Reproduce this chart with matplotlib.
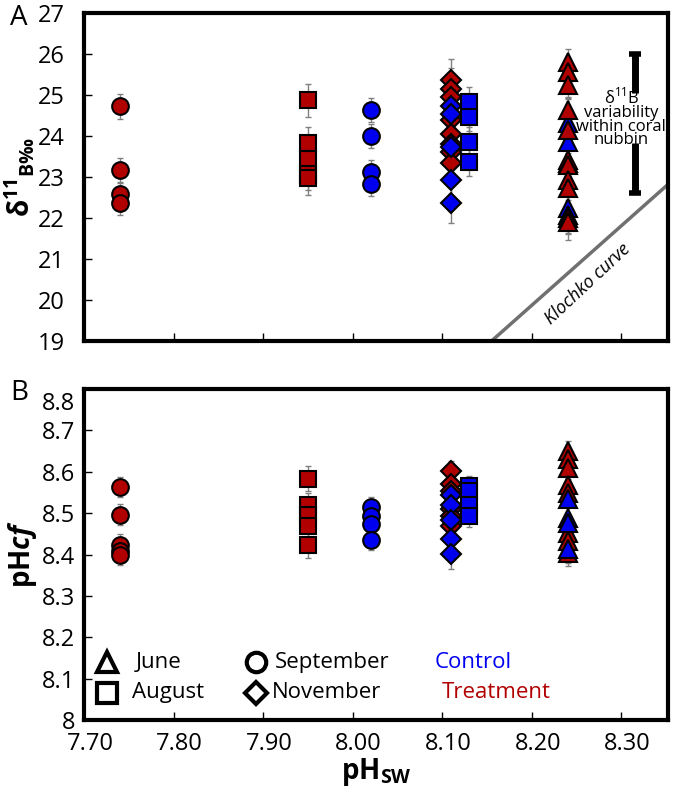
import matplotlib
matplotlib.use("Agg")
import matplotlib.pyplot as plt
from matplotlib.transforms import ScaledTranslation

plt.rcParams['font.family'] = ['Open Sans', 'DejaVu Sans']
plt.rcParams['mathtext.fontset'] = 'custom'
plt.rcParams['mathtext.rm'] = 'Open Sans'
plt.rcParams['mathtext.bf'] = 'Open Sans:bold'
plt.rcParams['mathtext.it'] = 'Open Sans:italic:bold'

RED = '#b00000'
BLUE = '#0000f0'

# pH of seawater for each group
ph_sep_trt = 7.74
ph_aug_trt = 7.95
ph_sep_ctl = 8.02
ph_nov = 8.11
ph_aug_ctl = 8.13
ph_jun = 8.24

# panel A: d11B (permil)
d11b_sep_trt = [24.72, 23.16, 22.59, 22.37]
d11b_aug_trt = [24.87, 23.82, 23.45, 23.08, 22.97]
d11b_sep_ctl = [24.63, 24.0, 23.12, 22.84]
d11b_nov_trt = [25.37, 25.15, 24.95, 24.4, 24.06, 23.81, 23.6, 23.33]
d11b_nov_ctl = [24.72, 24.54, 23.73, 22.92, 22.37]
d11b_aug_ctl = [24.84, 24.47, 23.86, 23.37]
d11b_jun_trt = [25.81, 25.57, 25.24, 24.63, 24.15, 23.41, 23.29, 22.93, 22.73, 22.0, 21.91]
d11b_jun_ctl = [24.31, 23.86, 23.33, 22.24, 22.07]

# panel B: pH of calcifying fluid
phcf_sep_trt = [8.563, 8.496, 8.424, 8.408, 8.40]
phcf_aug_trt = [8.583, 8.519, 8.496, 8.468, 8.422]
phcf_sep_ctl = [8.514, 8.494, 8.474, 8.436]
phcf_nov_trt = [8.601, 8.571, 8.553, 8.510, 8.494, 8.468]
phcf_nov_ctl = [8.545, 8.519, 8.484, 8.438, 8.401]
phcf_aug_ctl = [8.565, 8.553, 8.519, 8.492]
phcf_jun_trt = [8.650, 8.630, 8.608, 8.569, 8.549, 8.452, 8.432, 8.404]
phcf_jun_ctl = [8.533, 8.488, 8.476, 8.413]

# error (1 sd) per group, panel A then panel B
err_a = {'sep_trt': 0.3, 'aug_trt': 0.4, 'sep_ctl': 0.3, 'nov_trt': 0.5, 'nov_ctl': 0.5,
         'aug_ctl': 0.35, 'jun_trt': 0.3, 'jun_ctl': 0.6}
err_b = {'sep_trt': 0.025, 'aug_trt': 0.03, 'sep_ctl': 0.025, 'nov_trt': 0.025, 'nov_ctl': 0.035,
         'aug_ctl': 0.025, 'jun_trt': 0.025, 'jun_ctl': 0.04}

xticks = [7.70, 7.80, 7.90, 8.00, 8.10, 8.20, 8.30]
yticks_a = [19, 20, 21, 22, 23, 24, 25, 26, 27]
yticks_b = [8.0, 8.1, 8.2, 8.3, 8.4, 8.5, 8.6, 8.7, 8.8]
yticklabels_b = ['8', '8.1', '8.2', '8.3', '8.4', '8.5', '8.6', '8.7', '8.8']

MARKER = {'jun': '^', 'aug': 's', 'sep': 'o', 'nov': 'D'}
MSIZE = {'jun': 13, 'aug': 11.5, 'sep': 12, 'nov': 10}


def draw_series(ax, x, ys, err, month, color):
    ax.errorbar([x] * len(ys), ys, yerr=err, fmt='none', ecolor='#808080',
                elinewidth=1, capsize=2, capthick=1, zorder=2)
    ax.plot([x] * len(ys), ys, linestyle='none', marker=MARKER[month], ms=MSIZE[month],
            mfc=color, mec='black', mew=1.5, zorder=3)


def style_axes(ax, ypad):
    for s in ax.spines.values():
        s.set_linewidth(3)
    ax.tick_params(direction='in', length=6, width=1, labelsize=17)
    ax.tick_params(axis='x', pad=9)
    ax.tick_params(axis='y', pad=ypad)
    ax.set_xlim(7.70, 8.352)
    ax.set_xticks(xticks)


fig = plt.figure(figsize=(6.74, 7.87), dpi=100)
axA = fig.add_axes([84 / 674, 1 - 341 / 787, 584 / 674, 328 / 787])
axB = fig.add_axes([84 / 674, 1 - 720 / 787, 584 / 674, 331 / 787])

# ---- panel A
style_axes(axA, 14)
axA.set_ylim(19, 27)
axA.set_yticks(yticks_a)
axA.set_xticklabels([])

draw_series(axA, ph_sep_trt, d11b_sep_trt, err_a['sep_trt'], 'sep', RED)
draw_series(axA, ph_aug_trt, d11b_aug_trt, err_a['aug_trt'], 'aug', RED)
draw_series(axA, ph_sep_ctl, d11b_sep_ctl, err_a['sep_ctl'], 'sep', BLUE)
draw_series(axA, ph_nov, d11b_nov_trt, err_a['nov_trt'], 'nov', RED)
draw_series(axA, ph_nov, d11b_nov_ctl, err_a['nov_ctl'], 'nov', BLUE)
draw_series(axA, ph_aug_ctl, d11b_aug_ctl, err_a['aug_ctl'], 'aug', BLUE)
draw_series(axA, ph_jun, d11b_jun_ctl, err_a['jun_ctl'], 'jun', BLUE)
draw_series(axA, ph_jun, d11b_jun_trt, err_a['jun_trt'], 'jun', RED)

# Klochko curve
axA.plot([8.155, 8.352], [19, 22.82], color='#707070', lw=2.5, zorder=1)
axA.text(8.262, 20.4, 'Klochko curve', style='italic', fontsize=13,
         rotation=43, ha='center', va='center', rotation_mode='anchor')

# variability bar
bar_x = 8.315
axA.vlines(bar_x, 25.05, 26.0, color='black', lw=5)
axA.vlines(bar_x, 22.62, 23.84, color='black', lw=5)
axA.hlines([26.0, 22.62], bar_x - 0.007, bar_x + 0.007, color='black', lw=4)
axA.text(8.30, 24.45, 'δ$^{11}$B\nvariability\nwithin coral\nnubbin', fontsize=12,
         ha='center', va='center', linespacing=0.8)

axA.set_ylabel('δ$^{\\mathbf{11}}{}_{\\mathbf{B‰}}$', fontsize=20, fontweight='bold')
axA.yaxis.set_label_coords(-0.08, 0.5)
fig.text(10 / 674, 1 - 18 / 787, 'A', fontsize=20, ha='left', va='center')

# ---- panel B
style_axes(axB, 6.5)
axB.set_ylim(8.0, 8.8)
axB.set_yticks(yticks_b)
axB.set_yticklabels(yticklabels_b)
axB.set_xticklabels(['%.2f' % t for t in xticks])

# labels sit a little right of their ticks, top y label pushed below the frame
for lab in axB.get_xticklabels():
    lab.set_transform(lab.get_transform() + ScaledTranslation(6 / 100, 0, fig.dpi_scale_trans))
top_lab = axB.get_yticklabels()[-1]
top_lab.set_transform(top_lab.get_transform() + ScaledTranslation(0, -12 / 100, fig.dpi_scale_trans))

draw_series(axB, ph_sep_trt, phcf_sep_trt, err_b['sep_trt'], 'sep', RED)
draw_series(axB, ph_aug_trt, phcf_aug_trt, err_b['aug_trt'], 'aug', RED)
draw_series(axB, ph_sep_ctl, phcf_sep_ctl, err_b['sep_ctl'], 'sep', BLUE)
draw_series(axB, ph_nov, phcf_nov_trt, err_b['nov_trt'], 'nov', RED)
draw_series(axB, ph_nov, phcf_nov_ctl, err_b['nov_ctl'], 'nov', BLUE)
draw_series(axB, ph_aug_ctl, phcf_aug_ctl, err_b['aug_ctl'], 'aug', BLUE)
draw_series(axB, ph_jun, phcf_jun_trt, err_b['jun_trt'], 'jun', RED)
draw_series(axB, ph_jun, phcf_jun_ctl, err_b['jun_ctl'], 'jun', BLUE)

# hand-made key
key = [(0.039, 0.175, '^', 'June', 0.088), (0.039, 0.082, 's', 'August', 0.082),
       (0.295, 0.175, 'o', 'September', 0.327), (0.295, 0.082, 'D', 'November', 0.322)]
for kx, ky, mk, label, tx in key:
    axB.plot([kx], [ky], marker=mk, ms=14 if mk != 'D' else 11.5, mfc='white', mec='black',
             mew=3, transform=axB.transAxes, clip_on=False)
    axB.text(tx, ky, label, fontsize=16, ha='left', va='center', transform=axB.transAxes)
axB.text(0.600, 0.175, 'Control', color=BLUE, fontsize=16, ha='left', va='center',
         transform=axB.transAxes)
axB.text(0.612, 0.082, 'Treatment', color=RED, fontsize=16, ha='left', va='center',
         transform=axB.transAxes)

axB.set_ylabel('pH$\\mathit{cf}$', fontsize=20, fontweight='bold')
axB.yaxis.set_label_coords(-0.077, 0.5)
axB.set_xlabel('pH$_{\\mathbf{SW}}$', fontsize=20, fontweight='bold', labelpad=0)
fig.text(10 / 674, 1 - 393 / 787, 'B', fontsize=20, ha='left', va='center')

fig.savefig('out.png', dpi=100)
